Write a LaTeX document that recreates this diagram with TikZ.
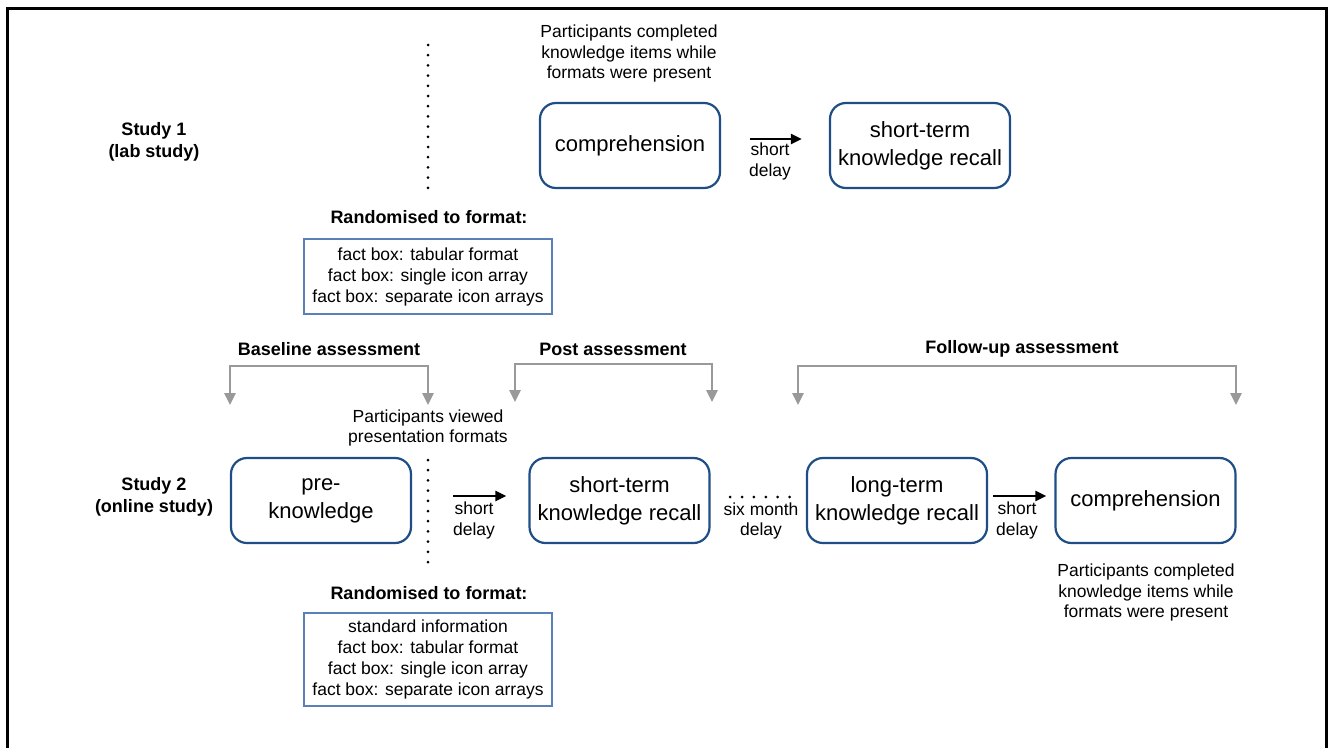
\documentclass[tikz,border=0pt]{standalone}
\usepackage{fontspec}
\setmainfont{Liberation Sans}
\usetikzlibrary{arrows.meta}
\definecolor{boxblue}{HTML}{1F4E86}
\definecolor{thinblue}{HTML}{5A80B8}
\definecolor{brgray}{HTML}{999999}
\tikzset{
  phase/.style={draw=boxblue, line width=2.2pt, rounded corners=16pt, minimum width=180pt, minimum height=85pt, align=center, inner sep=2pt, font=\fontsize{22}{28}\selectfont},
  listbox/.style={draw=thinblue, line width=1.3pt, minimum width=248pt, align=center, inner sep=0pt, font=\fontsize{17.5}{21}\selectfont},
  small/.style={align=center, inner sep=0pt, font=\fontsize{17.5}{20.5}\selectfont},
  boldlab/.style={align=center, inner sep=0pt, font=\fontsize{18}{22}\selectfont\bfseries},
  arr/.style={-{Triangle[length=11pt,width=10pt]}, line width=2.4pt, black},
  dotline/.style={line width=3pt, line cap=round, dash pattern=on 0pt off 10.2pt, black},
  gbr/.style={{Triangle[length=12pt,width=11pt]}-{Triangle[length=12pt,width=11pt]}, line width=2.6pt, brgray},
}
\begin{document}
\begin{tikzpicture}[x=1pt,y=-1pt]
\useasboundingbox (0,0) rectangle (1330,747);
% frame
\draw[line width=3pt, black] (7,750) -- (7,8) -- (1326.5,8) -- (1326.5,750);

% Study 1
\node[boldlab] (s1lab) at (154,142) {Study 1\\(lab study)};
\coordinate (d1a) at (428,45);
\coordinate (d1b) at (428,192);
\draw[dotline] (d1a) -- (d1b);
\node[small] (note1) at (629,53.5) {Participants completed\\knowledge items while\\formats were present};
\node[phase] (s1comp) at (630,145.5) {comprehension};
\node[phase] (s1str) at (920,145.5) {short-term\\knowledge recall};
\draw[arr, shorten <=29pt, shorten >=27pt] ([yshift=6.5pt]s1comp.east) -- ([yshift=6.5pt]s1str.west);
\node[small] (sd1) at (770,161.5) {short\\delay};
\node[boldlab] (rand1) at (429,217) {Randomised to format:};
\node[listbox, minimum height=75pt] (list1) at (428,276.5) {fact box: tabular format\\fact box: single icon array\\fact box: separate icon arrays};

% assessment brackets
\node[boldlab] (base) at (329,349) {Baseline assessment};
\coordinate (b1) at (230,405);
\coordinate (b2) at (428,405);
\draw[gbr] (b1) -- ++(0,-39) -| (b2);
\node[boldlab] (post) at (613,349) {Post assessment};
\coordinate (p1) at (515,402);
\coordinate (p2) at (712,402);
\draw[gbr] (p1) -- ++(0,-38) -| (p2);
\node[boldlab] (foll) at (1022,349) {Follow-up assessment};
\coordinate (f1) at (798,405);
\coordinate (f2) at (1236,405);
\draw[gbr] (f1) -- ++(0,-39) -| (f2);

% Study 2
\node[small] (note2) at (428,428) {Participants viewed\\presentation formats};
\node[boldlab] (s2lab) at (154,496.5) {Study 2\\(online study)};
\node[phase] (s2pre) at (321,500.5) {pre-\\knowledge};
\coordinate (d2a) at (428,460);
\coordinate (d2b) at (428,567);
\draw[dotline] (d2a) -- (d2b);
\node[phase] (s2str) at (619.5,500.5) {short-term\\knowledge recall};
\node[phase] (s2ltr) at (897,500.5) {long-term\\knowledge recall};
\node[phase] (s2comp) at (1145.5,500.5) {comprehension};
\draw[arr, shorten <=41pt, shorten >=22pt] ([yshift=4.5pt]s2pre.east) -- ([yshift=4.5pt]s2str.west);
\node[small] (sd2) at (474,520.5) {short\\delay};
\draw[dotline, dash pattern=on 0pt off 11.9pt, shorten <=19.5pt, shorten >=16pt] ([yshift=3.5pt]s2str.east) -- ([yshift=3.5pt]s2ltr.west);
\node[small] (smd) at (761,521) {six month\\delay};
\draw[arr, shorten <=5pt, shorten >=8pt] ([yshift=4.5pt]s2ltr.east) -- ([yshift=4.5pt]s2comp.west);
\node[small] (sd3) at (1017,520.5) {short\\delay};
\node[small] (note3) at (1146,592.5) {Participants completed\\knowledge items while\\formats were present};
\node[boldlab] (rand2) at (429,593) {Randomised to format:};
\node[listbox, minimum height=93pt] (list2) at (428,659.5) {standard information\\fact box: tabular format\\fact box: single icon array\\fact box: separate icon arrays};
\end{tikzpicture}
\end{document}
